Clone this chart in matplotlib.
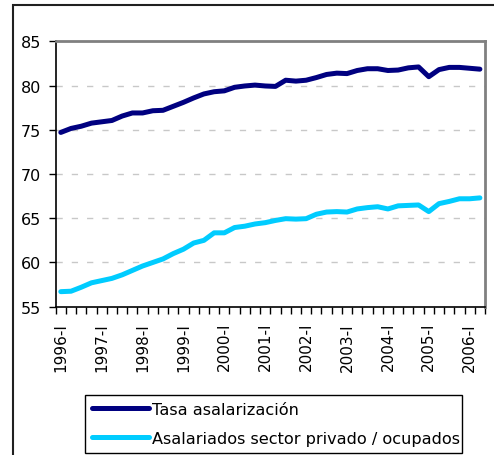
import numpy as np
import matplotlib.pyplot as plt
from matplotlib.patches import Rectangle

# trimestres 1996-I .. 2006-II
anios = list(range(1996, 2007))
trimestres = ["I", "II", "III", "IV"]
periodos = [f"{a}-{t}" for a in anios for t in trimestres][:42]

tasa_asalarizacion = [74.7, 75.15, 75.4, 75.75, 75.9, 76.05, 76.55, 76.9, 76.9, 77.15,
                      77.2, 77.65, 78.1, 78.6, 79.05, 79.3, 79.4, 79.8, 79.95, 80.05,
                      79.95, 79.9, 80.6, 80.5, 80.6, 80.9, 81.25, 81.4, 81.35, 81.7,
                      81.9, 81.9, 81.7, 81.75, 82.0, 82.1, 81.0, 81.8, 82.05, 82.05,
                      81.95, 81.85]
asalariados_privado = [56.7, 56.75, 57.2, 57.7, 57.95, 58.2, 58.6, 59.1, 59.6, 60.0,
                       60.4, 61.0, 61.5, 62.2, 62.5, 63.35, 63.35, 63.95, 64.1, 64.35,
                       64.5, 64.75, 64.95, 64.9, 64.95, 65.45, 65.7, 65.75, 65.7, 66.05,
                       66.2, 66.3, 66.05, 66.4, 66.45, 66.5, 65.75, 66.65, 66.9, 67.2,
                       67.2, 67.3]

etiquetas = ["Tasa asalarización", "Asalariados sector privado / ocupados"]
colores = ["#000080", "#00CCFF"]

plt.rcParams['font.family'] = ['DejaVu Sans']

fig = plt.figure(figsize=(4.94, 4.56), dpi=100)
ax = fig.add_axes([55.7/494, 1-307.7/456, (485-55.7)/494, (307.7-42.3)/456])

x = np.arange(len(periodos))
ax.plot(x, tasa_asalarizacion, color=colores[0], lw=3.6, label=etiquetas[0],
        solid_capstyle='round', solid_joinstyle='round')
ax.plot(x, asalariados_privado, color=colores[1], lw=3.6, label=etiquetas[1],
        solid_capstyle='round', solid_joinstyle='round')

ax.set_xlim(-0.5, len(periodos) - 0.5)
ax.set_ylim(55, 85)
ax.set_yticks([55, 60, 65, 70, 75, 80, 85])
ax.tick_params(axis='y', length=5, width=1, pad=5.5, labelsize=11.5, color='black')

# marcas en los limites de cada trimestre, etiquetas cada 4
ax.set_xticks(np.arange(-0.5, len(periodos), 1))
ax.set_xticklabels([])
ax.tick_params(axis='x', which='major', length=5, width=1, color='black')
ax.set_xticks(x[::4], minor=True)
ax.set_xticklabels(periodos[::4], minor=True, rotation=90, fontsize=11)
ax.tick_params(axis='x', which='minor', length=0, pad=11)

for v in [60, 65, 70, 75, 80]:
    ax.axhline(v, color='#c8c8c8', lw=1, dashes=(4.5, 6.5), zorder=0)

for s in ['top', 'right']:
    ax.spines[s].set_color('#808080')
    ax.spines[s].set_linewidth(2)
for s in ['left', 'bottom']:
    ax.spines[s].set_color('black')
    ax.spines[s].set_linewidth(1.2)

leg = fig.legend(loc='lower left', bbox_to_anchor=(85/494, 1-454/456, (462-85)/494, 63/456),
                 mode='expand', fontsize=11.6, handlelength=3.5, handletextpad=0.2,
                 labelspacing=0.85, borderaxespad=0, borderpad=0.45, fancybox=False,
                 frameon=True, edgecolor='black', framealpha=1)
leg.get_frame().set_linewidth(1)

# borde exterior del grafico
fig.patches.append(Rectangle((13/494, -0.1), 1.2, 1 - 6/456 + 0.1, transform=fig.transFigure,
                             fill=False, edgecolor='#202020', lw=1.5))

fig.savefig('out.png', dpi=100)
